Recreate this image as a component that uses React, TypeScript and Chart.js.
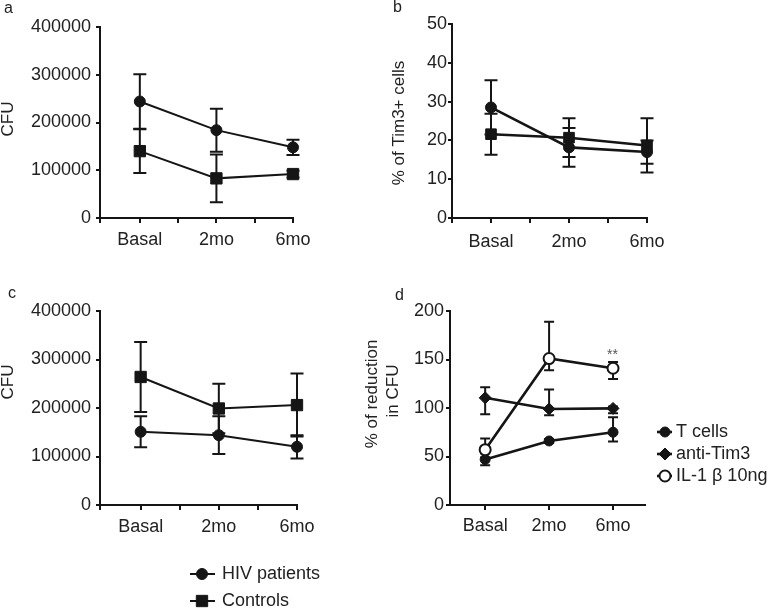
import React, { useEffect, useRef } from 'react';
import { Chart, registerables } from 'chart.js';
import { drawPoint } from 'chart.js/helpers';

Chart.register(...registerables);

const INK = '#151515';
const TEXT = '#222222';
const FONT = "'Liberation Sans', Arial, Helvetica, sans-serif";
Chart.defaults.font.family = FONT;

// ---- shared ----
const timepoints = ['Basal', '2mo', '6mo'];
const groupLabels = ['HIV patients', 'Controls'];
const dLabels = ['T cells', 'anti-Tim3', 'IL-1 β 10ng'];

// ---- panel a (CFU) ----
const aHiv = [244000, 184000, 148000];
const aHivErr = [57000, 45000, 16000];
const aControls = [140000, 83000, 92000];
const aControlsErr = [46000, 50000, 7000];
const cfuTicks = [0, 100000, 200000, 300000, 400000];

// ---- panel b (% of Tim3+ cells) ----
const bHiv = [28.5, 18.2, 17.0];
const bHivErr = [7.0, 5.0, 3.0];
const bControls = [21.6, 20.7, 18.7];
const bControlsErr = [5.3, 5.0, 7.0];
const pctTicks = [0, 10, 20, 30, 40, 50];

// ---- panel c (CFU) ----
const cHiv = [151000, 144000, 120000];
const cHivErr = [32000, 39000, 24000];
const cControls = [264000, 199000, 206000];
const cControlsErr = [72000, 51000, 65000];

// ---- panel d (% of reduction in CFU) ----
const dTcells = [47, 66, 75];
const dTcellsErrUp = [6, 2, 15.5];
const dTcellsErrDown = [6, 2, 9.5];
const dAntiTim3 = [110.5, 99, 99.6];
const dAntiTim3ErrUp = [11, 20, 2];
const dAntiTim3ErrDown = [17, 6.5, 5];
const dIL1b = [57, 151, 141];
const dIL1bErrUp = [11.5, 38, 6.5];
const dIL1bErrDown = [8, 12, 11];
const reductionTicks = [0, 50, 100, 150, 200];

type Txt = { text: string; x: number; y: number; size: number; color?: string; rot?: boolean; align?: CanvasTextAlign; base?: CanvasTextBaseline };

function series(label: string, values: number[], up: number[], down: number[], style: string, radius: number, lw: number, open = false, order = 1) {
  return {
    label,
    data: values.map((v, i) => ({ x: i, y: v })),
    errUp: up,
    errDown: down,
    borderColor: INK,
    backgroundColor: INK,
    pointBackgroundColor: open ? '#ffffff' : INK,
    pointBorderColor: INK,
    pointBorderWidth: open ? 2 : 1,
    pointStyle: style,
    pointRadius: radius,
    pointHoverRadius: radius,
    borderWidth: lw,
    tension: 0,
    clip: false as any,
    order,
  };
}

const extrasPlugin = {
  id: 'extras',
  beforeDatasetsDraw(chart: any, _args: any, opts: any) {
    const ctx = chart.ctx;
    const xs = chart.scales.x;
    const ys = chart.scales.y;
    ctx.save();
    ctx.strokeStyle = INK;
    ctx.lineWidth = opts.errWidth || 2;
    const cap = opts.cap || 6;
    chart.data.datasets.forEach((ds: any) => {
      ds.data.forEach((p: any, j: number) => {
        const x = xs.getPixelForValue(p.x);
        const y1 = ys.getPixelForValue(p.y + ds.errUp[j]);
        const y2 = ys.getPixelForValue(p.y - ds.errDown[j]);
        ctx.beginPath();
        ctx.moveTo(x, y1);
        ctx.lineTo(x, y2);
        ctx.moveTo(x - cap, y1);
        ctx.lineTo(x + cap, y1);
        ctx.moveTo(x - cap, y2);
        ctx.lineTo(x + cap, y2);
        ctx.stroke();
      });
    });
    ctx.restore();
  },
  afterDraw(chart: any, _args: any, opts: any) {
    const ctx = chart.ctx;
    const ox = opts.ox || 0;
    const oy = opts.oy || 0;
    ctx.save();
    (opts.texts || []).forEach((t: Txt) => {
      ctx.save();
      ctx.fillStyle = t.color || TEXT;
      ctx.font = `${t.size}px ${FONT}`;
      ctx.textAlign = t.align || 'center';
      ctx.textBaseline = t.base || 'middle';
      ctx.translate(t.x - ox, t.y - oy);
      if (t.rot) ctx.rotate(-Math.PI / 2);
      ctx.fillText(t.text, 0, 0);
      ctx.restore();
    });
    const lg = opts.legend;
    if (lg) {
      chart.data.datasets.forEach((ds: any, i: number) => {
        const y = lg.ys[i] - oy;
        ctx.save();
        ctx.strokeStyle = ds.borderColor;
        ctx.lineWidth = ds.borderWidth;
        ctx.beginPath();
        ctx.moveTo(lg.x1 - ox, y);
        ctx.lineTo(lg.x2 - ox, y);
        ctx.stroke();
        ctx.fillStyle = ds.pointBackgroundColor;
        ctx.strokeStyle = ds.pointBorderColor;
        ctx.lineWidth = ds.pointBorderWidth;
        drawPoint(ctx, { pointStyle: ds.pointStyle, radius: ds.legendRadius || ds.pointRadius, borderWidth: ds.pointBorderWidth, rotation: 0 } as any, lg.mx - ox, y);
        ctx.fillStyle = TEXT;
        ctx.font = `18px ${FONT}`;
        ctx.textAlign = 'left';
        ctx.textBaseline = 'middle';
        ctx.fillText(ds.label, lg.tx - ox, y);
        ctx.restore();
      });
    }
    ctx.restore();
  },
};

type PanelCfg = {
  x: number; y: number; w: number; h: number;
  area: { l: number; t: number; r: number; b: number };
  xMin: number; xMax: number; xTicks: number[];
  yTicks: number[];
  yPad: number; xPad: number;
  cap: number;
  datasets: any[];
  texts: Txt[];
  legend?: any;
};

function buildConfig(p: PanelCfg): any {
  const axisCommon = {
    grid: { display: true, drawOnChartArea: false, drawTicks: true, tickLength: 5, color: INK, lineWidth: 2 },
    border: { display: true, color: INK, width: 2 },
  };
  return {
    type: 'line',
    data: { datasets: p.datasets },
    plugins: [extrasPlugin],
    options: {
      responsive: false,
      animation: false,
      events: [],
      layout: { padding: { left: 0, top: p.area.t - p.y, right: p.x + p.w - p.area.r, bottom: 0 } },
      plugins: {
        legend: { display: false },
        tooltip: { enabled: false },
        extras: { ox: p.x, oy: p.y, cap: p.cap, errWidth: 2, texts: p.texts, legend: p.legend },
      },
      scales: {
        x: {
          type: 'linear',
          min: p.xMin,
          max: p.xMax,
          ...axisCommon,
          afterBuildTicks: (s: any) => { s.ticks = p.xTicks.map((v) => ({ value: v })); },
          afterFit: (s: any) => { s.height = p.y + p.h - p.area.b; },
          ticks: {
            autoSkip: false,
            maxRotation: 0,
            padding: p.xPad,
            color: TEXT,
            font: { size: 18 },
            callback: (v: number) => (Number.isInteger(v) && v >= 0 && v < timepoints.length ? timepoints[v] : ''),
          },
        },
        y: {
          type: 'linear',
          min: p.yTicks[0],
          max: p.yTicks[p.yTicks.length - 1],
          ...axisCommon,
          grid: { ...axisCommon.grid, tickLength: 4 },
          afterBuildTicks: (s: any) => { s.ticks = p.yTicks.map((v) => ({ value: v })); },
          afterFit: (s: any) => { s.width = p.area.l - p.x; },
          ticks: { padding: p.yPad, color: TEXT, font: { size: 18 }, callback: (v: number) => String(v) },
        },
      },
    },
  };
}

const halfTicks = (min: number) => [min, ...timepoints.flatMap((_, i) => (i === 0 ? [0] : [i - 0.5, i]))];

const panels: PanelCfg[] = [
  {
    x: 0, y: 0, w: 330, h: 265,
    area: { l: 100, t: 27, r: 293, b: 218 },
    xMin: -0.52, xMax: 2, xTicks: halfTicks(-0.52),
    yTicks: cfuTicks, yPad: 5, xPad: 6, cap: 6.5,
    datasets: [
      series(groupLabels[0], aHiv, aHivErr, aHivErr, 'circle', 5.5, 2),
      series(groupLabels[1], aControls, aControlsErr, aControlsErr, 'rect', 8, 2),
    ],
    texts: [
      { text: 'a', x: 4, y: 13, size: 16, align: 'left', base: 'alphabetic' },
      { text: 'CFU', x: 8.5, y: 119, size: 17, rot: true },
    ],
  },
  {
    x: 390, y: 0, w: 384, h: 265,
    area: { l: 452, t: 24, r: 647, b: 218 },
    xMin: -0.5, xMax: 2, xTicks: halfTicks(-0.5),
    yTicks: pctTicks, yPad: 1, xPad: 8, cap: 6.5,
    datasets: [
      series(groupLabels[0], bHiv, bHivErr, bHivErr, 'circle', 5.5, 2.6),
      series(groupLabels[1], bControls, bControlsErr, bControlsErr, 'rect', 7.5, 2.6),
    ],
    texts: [
      { text: 'b', x: 393, y: 12, size: 16, align: 'left', base: 'alphabetic' },
      { text: '% of Tim3+ cells', x: 399, y: 123, size: 17, rot: true },
    ],
  },
  {
    x: 0, y: 265, w: 355, h: 343,
    area: { l: 100, t: 311, r: 297, b: 505 },
    xMin: -0.52, xMax: 2, xTicks: halfTicks(-0.52),
    yTicks: cfuTicks, yPad: 5, xPad: 6, cap: 6.5,
    datasets: [
      series(groupLabels[0], cHiv, cHivErr, cHivErr, 'circle', 5.5, 2),
      series(groupLabels[1], cControls, cControlsErr, cControlsErr, 'rect', 8, 2),
    ],
    texts: [
      { text: 'c', x: 8, y: 298, size: 16, align: 'left', base: 'alphabetic' },
      { text: 'CFU', x: 8.5, y: 382, size: 17, rot: true },
    ],
    legend: { x1: 190, x2: 215, mx: 202, tx: 222, ys: [574, 601] },
  },
  {
    x: 355, y: 265, w: 419, h: 343,
    area: { l: 450, t: 311, r: 645, b: 505 },
    xMin: -0.55, xMax: 2.5, xTicks: timepoints.map((_, i) => i),
    yTicks: reductionTicks, yPad: 2, xPad: 5, cap: 5,
    datasets: [
      series(dLabels[0], dTcells, dTcellsErrUp, dTcellsErrDown, 'circle', 5, 2.6, false, 2),
      series(dLabels[1], dAntiTim3, dAntiTim3ErrUp, dAntiTim3ErrDown, 'rectRot', 6, 2.6, false, 1),
      series(dLabels[2], dIL1b, dIL1bErrUp, dIL1bErrDown, 'circle', 5.5, 2.6, true, 0),
    ],
    texts: [
      { text: 'd', x: 395, y: 299.5, size: 16, align: 'left', base: 'alphabetic' },
      { text: '% of reduction', x: 372, y: 394, size: 17, rot: true },
      { text: 'in CFU', x: 393, y: 391, size: 17, rot: true },
      { text: '**', x: 612.5, y: 359, size: 14, color: '#555555', base: 'alphabetic' },
    ],
    legend: { x1: 657, x2: 672, mx: 665, tx: 676, ys: [432, 454, 476] },
  },
];

function Panel({ cfg }: { cfg: PanelCfg }) {
  const ref = useRef<HTMLCanvasElement | null>(null);
  useEffect(() => {
    if (!ref.current) return;
    const chart = new Chart(ref.current, buildConfig(cfg));
    return () => chart.destroy();
  }, [cfg]);
  return (
    <canvas
      ref={ref}
      width={cfg.w}
      height={cfg.h}
      style={{ position: 'absolute', left: cfg.x, top: cfg.y, width: cfg.w, height: cfg.h, display: 'block' }}
    />
  );
}

export default function App() {
  return (
    <div style={{ position: 'absolute', left: 0, top: 0, width: 774, height: 608, background: '#ffffff', overflow: 'hidden' }}>
      {panels.map((p, i) => (
        <Panel key={i} cfg={p} />
      ))}
    </div>
  );
}
